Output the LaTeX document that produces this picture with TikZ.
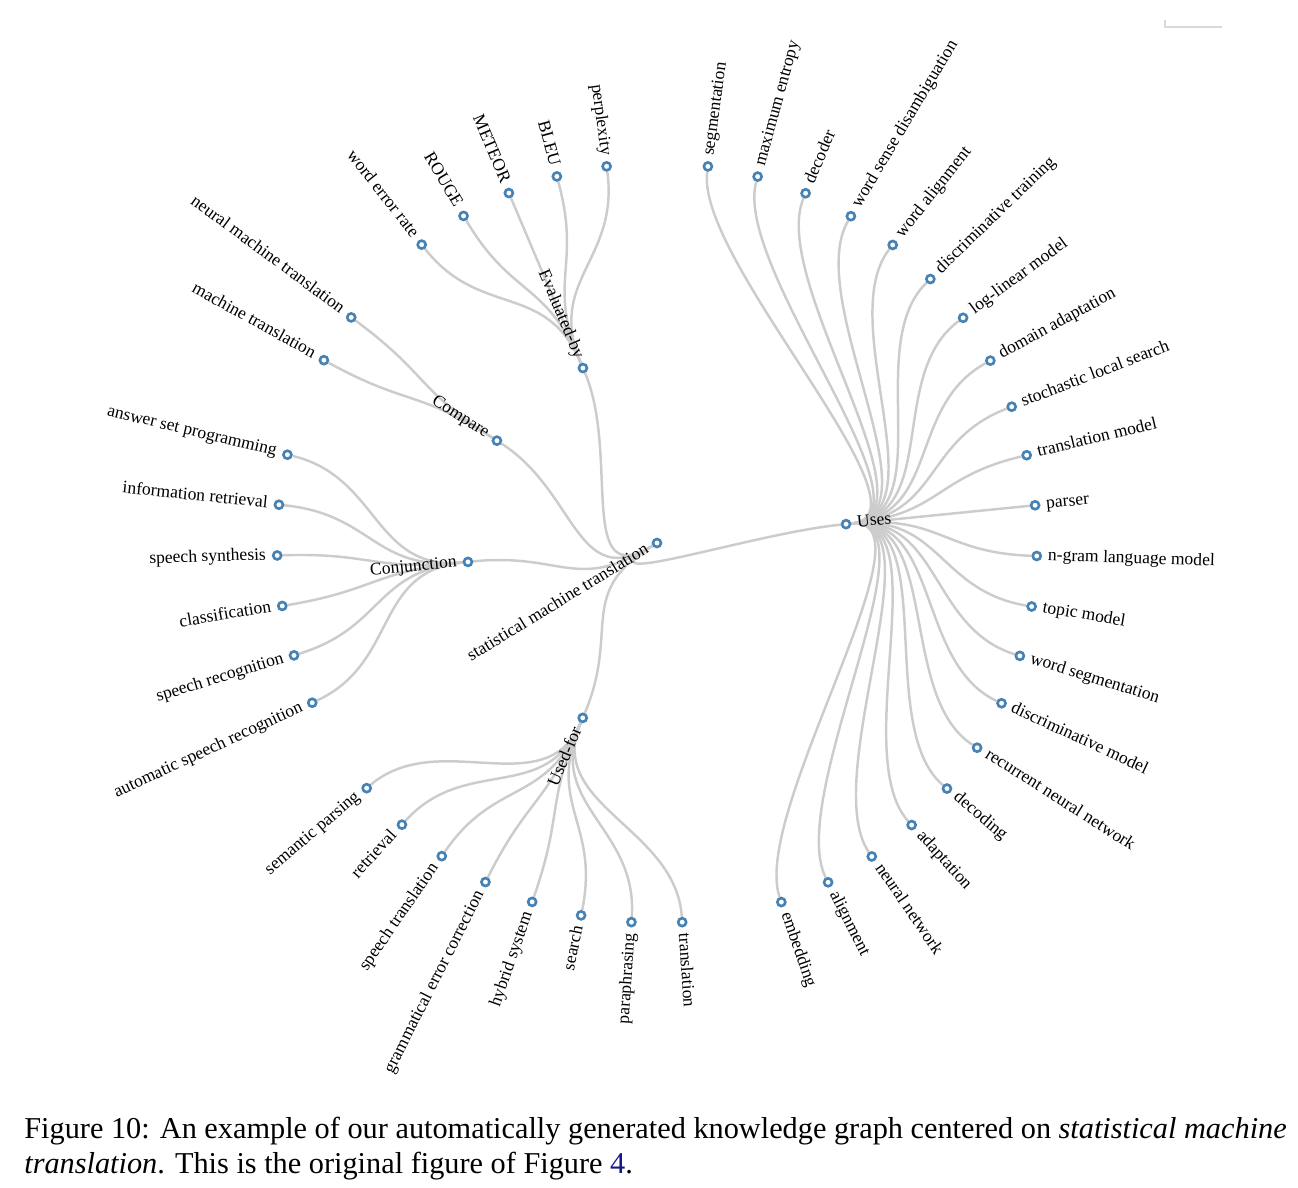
\documentclass[tikz,border=0pt]{standalone}
\usepackage{fontspec}
\setmainfont{Liberation Serif}
\usepackage{xcolor}
\usetikzlibrary{calc, backgrounds}
\definecolor{steel}{RGB}{70,130,180}
\definecolor{linkblue}{RGB}{20,20,140}

\begin{document}
\begin{tikzpicture}[
        x=0.02cm, y=0.02cm,
        dot/.style={circle, draw=steel, fill=white, line width=1.5pt, minimum size=0.16cm, inner sep=0pt},
        rtext/.style={anchor=mid west, inner xsep=3.2pt, inner ysep=1pt, font=\fontsize{10}{12}\selectfont},
        ltext/.style={anchor=mid east, inner xsep=3.2pt, inner ysep=1pt, font=\fontsize{10}{12}\selectfont},
        link/.style={draw=black!20, line width=1.4pt},
        trunk/.style={to path={.. controls (hub) and ($(smt)!0.5!(\tikztotarget)$) .. (\tikztotarget)}},
        branch/.style={to path={.. controls ($(smt)!1.5!(\tikztostart)$) and ($(smt)!0.75!(\tikztotarget)$) .. (\tikztotarget)}},
        caption/.style={anchor=base west, inner sep=0pt, font=\fontsize{17.25}{20}\selectfont}
    ]
        \useasboundingbox (-657,-644) rectangle (641,543);

        % Root
        \node[dot, label={[ltext, rotate=31.5]211.5:statistical machine translation}] (smt) at (0,0) {};
        \coordinate (hub) at (211.5:95);

        % Relations
        \node[dot, label={[rtext, rotate=5.7]5.7:Uses}] (uses) at (5.7:190) {};
        \node[dot, label={[ltext, rotate=-67.06]112.94:Evaluated-by}] (evalby) at (112.94:190) {};
        \node[dot, label={[ltext, rotate=-32.59]147.41:Compare}] (compare) at (147.41:190) {};
        \node[dot, label={[ltext, rotate=5.71]185.71:Conjunction}] (conj) at (185.71:190) {};
        \node[dot, label={[ltext, rotate=66.99]246.99:Used-for}] (usedfor) at (246.99:190) {};

        % Uses
        \node[dot, label={[rtext, rotate=82.30]82.30:segmentation}] (seg) at (82.30:380) {};
        \node[dot, label={[rtext, rotate=74.64]74.64:maximum entropy}] (maxent) at (74.64:380) {};
        \node[dot, label={[rtext, rotate=66.98]66.98:decoder}] (decoder) at (66.98:380) {};
        \node[dot, label={[rtext, rotate=59.32]59.32:word sense disambiguation}] (wsd) at (59.32:380) {};
        \node[dot, label={[rtext, rotate=51.66]51.66:word alignment}] (walign) at (51.66:380) {};
        \node[dot, label={[rtext, rotate=44.00]44.00:discriminative training}] (disctrain) at (44.00:380) {};
        \node[dot, label={[rtext, rotate=36.34]36.34:log-linear model}] (loglin) at (36.34:380) {};
        \node[dot, label={[rtext, rotate=28.68]28.68:domain adaptation}] (domad) at (28.68:380) {};
        \node[dot, label={[rtext, rotate=21.02]21.02:stochastic local search}] (sls) at (21.02:380) {};
        \node[dot, label={[rtext, rotate=13.36]13.36:translation model}] (tmodel) at (13.36:380) {};
        \node[dot, label={[rtext, rotate=5.70]5.70:parser}] (parser) at (5.70:380) {};
        \node[dot, label={[rtext, rotate=-1.96]-1.96:n-gram language model}] (ngram) at (-1.96:380) {};
        \node[dot, label={[rtext, rotate=-9.62]-9.62:topic model}] (topic) at (-9.62:380) {};
        \node[dot, label={[rtext, rotate=-17.28]-17.28:word segmentation}] (wseg) at (-17.28:380) {};
        \node[dot, label={[rtext, rotate=-24.94]-24.94:discriminative model}] (discmodel) at (-24.94:380) {};
        \node[dot, label={[rtext, rotate=-32.60]-32.60:recurrent neural network}] (rnn) at (-32.60:380) {};
        \node[dot, label={[rtext, rotate=-40.26]-40.26:decoding}] (decoding) at (-40.26:380) {};
        \node[dot, label={[rtext, rotate=-47.92]-47.92:adaptation}] (adapt) at (-47.92:380) {};
        \node[dot, label={[rtext, rotate=-55.58]-55.58:neural network}] (nn) at (-55.58:380) {};
        \node[dot, label={[rtext, rotate=-63.24]-63.24:alignment}] (align) at (-63.24:380) {};
        \node[dot, label={[rtext, rotate=-70.90]-70.90:embedding}] (embed) at (-70.90:380) {};

        % Evaluated-by
        \node[dot, label={[ltext, rotate=-82.38]97.62:perplexity}] (perp) at (97.62:380) {};
        \node[dot, label={[ltext, rotate=-74.72]105.28:BLEU}] (bleu) at (105.28:380) {};
        \node[dot, label={[ltext, rotate=-67.06]112.94:METEOR}] (meteor) at (112.94:380) {};
        \node[dot, label={[ltext, rotate=-59.40]120.60:ROUGE}] (rouge) at (120.60:380) {};
        \node[dot, label={[ltext, rotate=-51.74]128.26:word error rate}] (wer) at (128.26:380) {};

        % Compare
        \node[dot, label={[ltext, rotate=-36.42]143.58:neural machine translation}] (nmt) at (143.58:380) {};
        \node[dot, label={[ltext, rotate=-28.76]151.24:machine translation}] (mt) at (151.24:380) {};

        % Conjunction
        \node[dot, label={[ltext, rotate=-13.44]166.56:answer set programming}] (asp) at (166.56:380) {};
        \node[dot, label={[ltext, rotate=-5.78]174.22:information retrieval}] (ir) at (174.22:380) {};
        \node[dot, label={[ltext, rotate=1.88]181.88:speech synthesis}] (synth) at (181.88:380) {};
        \node[dot, label={[ltext, rotate=9.54]189.54:classification}] (classif) at (189.54:380) {};
        \node[dot, label={[ltext, rotate=17.20]197.20:speech recognition}] (sprec) at (197.20:380) {};
        \node[dot, label={[ltext, rotate=24.86]204.86:automatic speech recognition}] (asr) at (204.86:380) {};

        % Used-for
        \node[dot, label={[ltext, rotate=40.18]220.18:semantic parsing}] (semparse) at (220.18:380) {};
        \node[dot, label={[ltext, rotate=47.84]227.84:retrieval}] (retr) at (227.84:380) {};
        \node[dot, label={[ltext, rotate=55.50]235.50:speech translation}] (sptrans) at (235.50:380) {};
        \node[dot, label={[ltext, rotate=63.16]243.16:grammatical error correction}] (gec) at (243.16:380) {};
        \node[dot, label={[ltext, rotate=70.82]250.82:hybrid system}] (hybrid) at (250.82:380) {};
        \node[dot, label={[ltext, rotate=78.48]258.48:search}] (search) at (258.48:380) {};
        \node[dot, label={[ltext, rotate=86.14]266.14:paraphrasing}] (para) at (266.14:380) {};
        \node[dot, label={[rtext, rotate=-86.20]-86.20:translation}] (trans) at (-86.20:380) {};

        % Edges
        \begin{scope}[on background layer]
            \draw[link] (smt) to[trunk] (uses);
            \draw[link] (smt) to[trunk] (evalby);
            \draw[link] (smt) to[trunk] (compare);
            \draw[link] (smt) to[trunk] (conj);
            \draw[link] (smt) to[trunk] (usedfor);

            \draw[link] (uses) to[branch] (seg);
            \draw[link] (uses) to[branch] (maxent);
            \draw[link] (uses) to[branch] (decoder);
            \draw[link] (uses) to[branch] (wsd);
            \draw[link] (uses) to[branch] (walign);
            \draw[link] (uses) to[branch] (disctrain);
            \draw[link] (uses) to[branch] (loglin);
            \draw[link] (uses) to[branch] (domad);
            \draw[link] (uses) to[branch] (sls);
            \draw[link] (uses) to[branch] (tmodel);
            \draw[link] (uses) to[branch] (parser);
            \draw[link] (uses) to[branch] (ngram);
            \draw[link] (uses) to[branch] (topic);
            \draw[link] (uses) to[branch] (wseg);
            \draw[link] (uses) to[branch] (discmodel);
            \draw[link] (uses) to[branch] (rnn);
            \draw[link] (uses) to[branch] (decoding);
            \draw[link] (uses) to[branch] (adapt);
            \draw[link] (uses) to[branch] (nn);
            \draw[link] (uses) to[branch] (align);
            \draw[link] (uses) to[branch] (embed);

            \draw[link] (evalby) to[branch] (perp);
            \draw[link] (evalby) to[branch] (bleu);
            \draw[link] (evalby) to[branch] (meteor);
            \draw[link] (evalby) to[branch] (rouge);
            \draw[link] (evalby) to[branch] (wer);

            \draw[link] (compare) to[branch] (nmt);
            \draw[link] (compare) to[branch] (mt);

            \draw[link] (conj) to[branch] (asp);
            \draw[link] (conj) to[branch] (ir);
            \draw[link] (conj) to[branch] (synth);
            \draw[link] (conj) to[branch] (classif);
            \draw[link] (conj) to[branch] (sprec);
            \draw[link] (conj) to[branch] (asr);

            \draw[link] (usedfor) to[branch] (semparse);
            \draw[link] (usedfor) to[branch] (retr);
            \draw[link] (usedfor) to[branch] (sptrans);
            \draw[link] (usedfor) to[branch] (gec);
            \draw[link] (usedfor) to[branch] (hybrid);
            \draw[link] (usedfor) to[branch] (search);
            \draw[link] (usedfor) to[branch] (para);
            \draw[link] (usedfor) to[branch] (trans);
        \end{scope}

        % Corner mark
        \draw[black!15, line width=0.8pt] (508,523) -- (508,516) -- (565,516);

        % Caption
        \node[caption] (cap1) at (-633,-595) {Figure 10: An example of our automatically generated knowledge graph centered on \textit{statistical machine}};
        \node[caption] (cap2) at (-633,-630) {\textit{translation}. This is the original figure of Figure \textcolor{linkblue}{4}.};
    \end{tikzpicture}
\end{document}
